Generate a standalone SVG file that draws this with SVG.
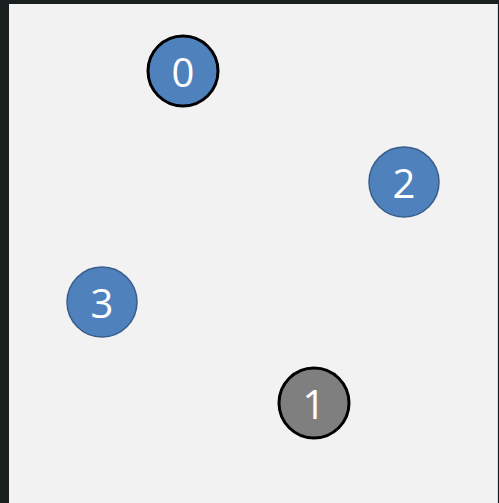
<svg xmlns="http://www.w3.org/2000/svg" width="499" height="503" viewBox="0 0 499 503">
<style>
.bg{fill:#f2f2f2}
.n{fill:#4f81bd;stroke:#385d8a;stroke-width:1.5}
.sel{stroke:#000;stroke-width:3}
.g{fill:#7f7f7f}
.t{fill:#fff;font-family:"Open Sans","Liberation Sans",sans-serif;font-size:40px;text-anchor:middle;dominant-baseline:central}
</style>
<rect x="0" y="0" width="499" height="503" fill="#1a1f1f"/>
<rect class="bg" x="9" y="4" width="488" height="499"/>
<line x1="497.5" y1="4" x2="497.5" y2="503" stroke="#d8d8d8" stroke-width="1"/>
<g id="connectors"></g>
<g id="node0"><circle class="n sel" cx="183" cy="71" r="35"/><text class="t" x="183" y="71">0</text></g>
<g id="node2"><circle class="n" cx="404" cy="182" r="35"/><text class="t" x="404" y="182">2</text></g>
<g id="node3"><circle class="n" cx="102" cy="302" r="35"/><text class="t" x="102" y="302">3</text></g>
<g id="node1"><circle class="n g sel" cx="314" cy="403" r="35"/><text class="t" x="314" y="403">1</text></g>
</svg>
